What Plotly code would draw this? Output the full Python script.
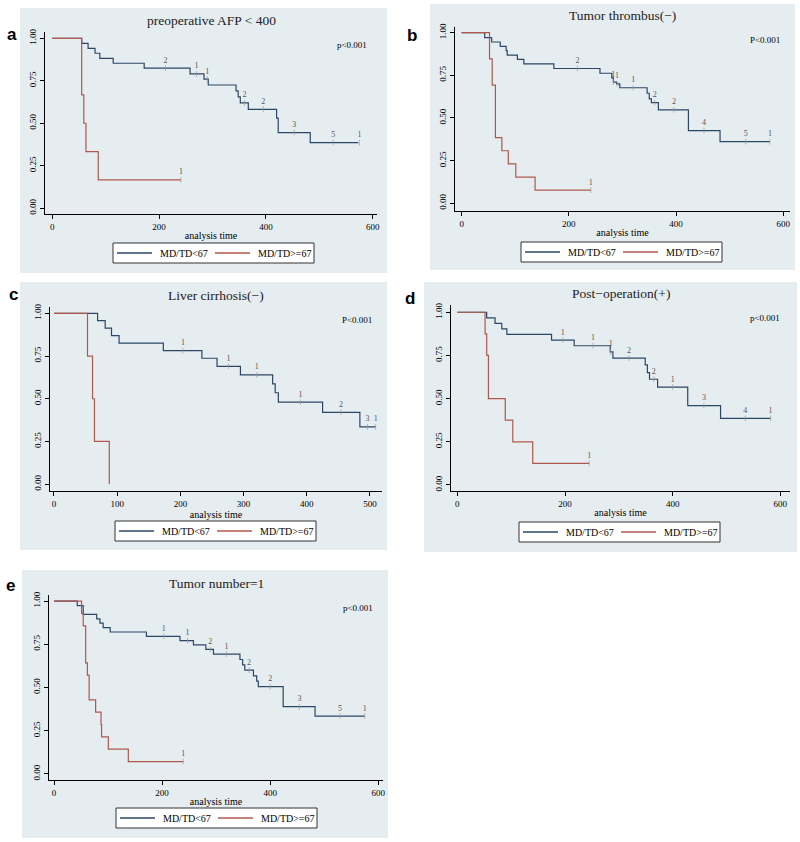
import plotly.graph_objects as go

# ---- data (Kaplan-Meier steps) ----
# a: preoperative AFP < 400
a_low_t = [0, 55, 67, 80, 89, 114, 172, 258, 284, 292, 344, 348, 352, 367, 420, 423, 483, 573]
a_low_s = [1.0, 0.97, 0.941, 0.912, 0.882, 0.853, 0.824, 0.79, 0.76, 0.725, 0.69, 0.655, 0.62, 0.582, 0.53, 0.445, 0.386, 0.386]
a_high_t = [0, 55, 59, 63, 86, 241]
a_high_s = [1.0, 0.667, 0.5, 0.333, 0.167, 0.167]
a_cens_t = [212, 270, 290, 360, 395, 453, 526, 575]
a_cens_n = ["2", "1", "1", "2", "2", "3", "5", "1"]
a_hcens_t = [241]
a_hcens_n = ["1"]

# b: Tumor thrombus(-)
b_low_t = [0, 43, 56, 72, 83, 85, 104, 116, 172, 258, 280, 283, 289, 295, 346, 350, 354, 367, 423, 482, 575]
b_low_s = [1.0, 0.971, 0.945, 0.92, 0.895, 0.868, 0.843, 0.817, 0.79, 0.762, 0.735, 0.71, 0.70, 0.677, 0.645, 0.612, 0.59, 0.547, 0.426, 0.361, 0.361]
b_high_t = [0, 52, 57, 63, 75, 87, 101, 137, 241]
b_high_s = [1.0, 0.846, 0.692, 0.385, 0.308, 0.231, 0.154, 0.077, 0.077]
b_cens_t = [216, 283, 290, 320, 360, 396, 452, 530, 575]
b_cens_n = ["2", "1", "1", "1", "2", "2", "4", "5", "1"]
b_hcens_t = [241]
b_hcens_n = ["1"]

# c: Liver cirrhosis(-)
c_low_t = [0, 69, 81, 91, 103, 173, 234, 258, 295, 346, 350, 355, 425, 484, 509]
c_low_s = [1.0, 0.957, 0.913, 0.869, 0.826, 0.782, 0.737, 0.69, 0.64, 0.587, 0.535, 0.48, 0.42, 0.335, 0.335]
c_high_t = [0, 53, 61, 64, 87.5]
c_high_s = [1.0, 0.75, 0.5, 0.25, 0.0]
c_cens_t = [204, 276, 321, 390, 454, 496, 509]
c_cens_n = ["1", "1", "1", "1", "2", "3", "1"]
c_hcens_t = []
c_hcens_n = []

# d: Post-operation(+)
d_low_t = [0, 54.5, 70, 82.5, 92, 175, 217, 284, 289, 349, 353, 357, 372, 428, 489, 582]
d_low_s = [1.0, 0.968, 0.936, 0.904, 0.872, 0.839, 0.806, 0.77, 0.734, 0.695, 0.65, 0.612, 0.567, 0.459, 0.386, 0.386]
d_high_t = [0, 51.5, 54.5, 57.7, 89, 103, 140, 245]
d_high_s = [1.0, 0.875, 0.75, 0.5, 0.375, 0.25, 0.125, 0.125]
d_cens_t = [196, 252, 285, 319, 365, 400, 458, 535, 582]
d_cens_n = ["1", "1", "1", "2", "2", "1", "3", "4", "1"]
d_hcens_t = [245]
d_hcens_n = ["1"]

# e: Tumor number=1
e_low_t = [0, 43, 54, 79, 85, 91, 104, 171, 233, 258, 281, 295, 344, 349, 353, 369, 375, 378, 424, 483, 575]
e_low_s = [1.0, 0.974, 0.923, 0.897, 0.872, 0.846, 0.821, 0.796, 0.771, 0.746, 0.72, 0.693, 0.662, 0.631, 0.6, 0.567, 0.537, 0.505, 0.389, 0.335, 0.335]
e_high_t = [0, 51, 54, 58.6, 61.7, 65, 77, 87, 88, 100.5, 137.5, 239]
e_high_s = [1.0, 0.929, 0.857, 0.643, 0.571, 0.429, 0.357, 0.286, 0.214, 0.143, 0.071, 0.071]
e_cens_t = [203, 247, 289, 319, 361, 400, 454, 529, 575]
e_cens_n = ["1", "1", "2", "1", "2", "2", "3", "5", "1"]
e_hcens_t = [239]
e_hcens_n = ["1"]

titles = ["preoperative AFP < 400", "Tumor thrombus(\u2212)", "Liver cirrhosis(\u2212)",
          "Post\u2212operation(+)", "Tumor number=1"]
letters = ["a", "b", "c", "d", "e"]
pvals = ["p<0.001", "P<0.001", "P<0.001", "p<0.001", "p<0.001"]
group_names = ["MD/TD<67", "MD/TD>=67"]
x_ticks = [[0, 200, 400, 600], [0, 200, 400, 600], [0, 100, 200, 300, 400, 500],
           [0, 200, 400, 600], [0, 200, 400, 600]]

data = [
    (a_low_t, a_low_s, a_high_t, a_high_s, a_cens_t, a_cens_n, a_hcens_t, a_hcens_n),
    (b_low_t, b_low_s, b_high_t, b_high_s, b_cens_t, b_cens_n, b_hcens_t, b_hcens_n),
    (c_low_t, c_low_s, c_high_t, c_high_s, c_cens_t, c_cens_n, c_hcens_t, c_hcens_n),
    (d_low_t, d_low_s, d_high_t, d_high_s, d_cens_t, d_cens_n, d_hcens_t, d_hcens_n),
    (e_low_t, e_low_s, e_high_t, e_high_s, e_cens_t, e_cens_n, e_hcens_t, e_hcens_n),
]

# ---- layout geometry (pixels) ----
W, H = 800, 842
# background box, plot area, x range, y range, legend box (left, top), letter pos
geom = [
    dict(box=(20, 8, 387, 273), plot=(45, 32, 377, 214), xr=(-13.7, 608), yr=(-0.034, 1.037),
         leg=(113, 243), letter=(12, 34)),
    dict(box=(430, 4, 795, 270), plot=(455, 27, 790, 211), xr=(-12.4, 612.5), yr=(-0.045, 1.033),
         leg=(521, 242), letter=(412, 35)),
    dict(box=(20, 282, 387, 550), plot=(50, 307, 382, 491), xr=(-6.3, 519), yr=(-0.04, 1.037),
         leg=(115, 521), letter=(13, 295)),
    dict(box=(424, 282, 797, 552), plot=(451, 305, 790, 491), xr=(-11.8, 618), yr=(-0.035, 1.042),
         leg=(519, 522), letter=(410, 298)),
    dict(box=(22, 570, 388, 838), plot=(49, 595, 383, 780), xr=(-9.25, 608.7), yr=(-0.035, 1.035),
         leg=(116, 808), letter=(10, 585)),
]
LEG_W, LEG_H = 201, 20

SERIF = "Liberation Serif"
BLUE = "#2b4766"
RED = "#b0584c"
BOXC = "#e6edf1"


def px(x):
    return x / W


def py(y):
    return 1 - y / H


def step_at(ts, ss, t):
    v = ss[0]
    for ti, si in zip(ts, ss):
        if ti <= t:
            v = si
    return v


fig = go.Figure()
layout = dict(shapes=[], annotations=[])

for i, (d, g) in enumerate(zip(data, geom)):
    lt, ls, ht, hs, ct, cn, hct, hcn = d
    xa = "x" if i == 0 else f"x{i + 1}"
    ya = "y" if i == 0 else f"y{i + 1}"

    fig.add_trace(go.Scatter(x=lt, y=ls, mode="lines", line=dict(color=BLUE, width=1.2, shape="hv"),
                             name=group_names[0], xaxis=xa, yaxis=ya))
    fig.add_trace(go.Scatter(x=ht, y=hs, mode="lines", line=dict(color=RED, width=1.2, shape="hv"),
                             name=group_names[1], xaxis=xa, yaxis=ya))
    # censoring counts
    for tt, tn, ts, ss in ((ct, cn, lt, ls), (hct, hcn, ht, hs)):
        if not tt:
            continue
        fig.add_trace(go.Scatter(x=tt, y=[step_at(ts, ss, t) for t in tt], mode="text+markers", text=tn,
                                 textposition="top center", textfont=dict(family=SERIF, size=8, color="#555"),
                                 marker=dict(symbol="line-ns", size=4, line=dict(color="#999", width=0.7)),
                                 xaxis=xa, yaxis=ya, hoverinfo="skip"))

    x0, y0, x1, y1 = g["plot"]
    axis_common = dict(showline=True, linecolor="black", linewidth=1, ticks="outside", ticklen=4,
                       tickcolor="black", tickfont=dict(family=SERIF, size=9, color="black"),
                       zeroline=False, fixedrange=True, automargin=False)
    layout["xaxis" if i == 0 else f"xaxis{i + 1}"] = dict(
        axis_common, domain=[px(x0), px(x1)], range=list(g["xr"]), anchor=ya,
        tickvals=x_ticks[i], showgrid=False,
        title=dict(text="analysis time", font=dict(family=SERIF, size=10, color="black"), standoff=1))
    layout["yaxis" if i == 0 else f"yaxis{i + 1}"] = dict(
        axis_common, domain=[py(y1), py(y0)], range=list(g["yr"]), anchor=xa,
        tickvals=[0, 0.25, 0.5, 0.75, 1.0], ticktext=["0.00", "0.25", "0.50", "0.75", "1.00"],
        tickangle=-90, showgrid=True, gridcolor="#e9eff1", gridwidth=1)

    # panel background
    bx0, by0, bx1, by1 = g["box"]
    layout["shapes"].append(dict(type="rect", xref="paper", yref="paper", x0=px(bx0), x1=px(bx1),
                                 y0=py(by1), y1=py(by0), fillcolor=BOXC, line=dict(width=0), layer="below"))

    # legend box (Stata style)
    lx, ly = g["leg"]
    cy = ly + LEG_H / 2
    layout["shapes"].append(dict(type="rect", xref="paper", yref="paper", x0=px(lx), x1=px(lx + LEG_W),
                                 y0=py(ly + LEG_H), y1=py(ly), fillcolor="white",
                                 line=dict(color="#333", width=1)))
    for k, (col, off) in enumerate(((BLUE, 4), (RED, 102))):
        layout["shapes"].append(dict(type="line", xref="paper", yref="paper", x0=px(lx + off),
                                     x1=px(lx + off + 35), y0=py(cy), y1=py(cy), line=dict(color=col, width=1.3)))
        layout["annotations"].append(dict(text=group_names[k], xref="paper", yref="paper", x=px(lx + off + 41),
                                          y=py(cy), xanchor="left", yanchor="middle", showarrow=False,
                                          font=dict(family=SERIF, size=10, color="black")))

    layout["annotations"].append(dict(text=titles[i], xref="paper", yref="paper", x=px((x0 + x1) / 2),
                                      y=py(y0 - 2), xanchor="center", yanchor="bottom", showarrow=False,
                                      font=dict(family=SERIF, size=13.5, color="#222")))
    layout["annotations"].append(dict(text=pvals[i], xref=f"{xa} domain", yref=f"{ya} domain", x=0.975, y=0.93,
                                      xanchor="right", yanchor="middle", showarrow=False,
                                      font=dict(family=SERIF, size=9, color="black")))
    lx0, ly0 = g["letter"]
    layout["annotations"].append(dict(text=f"<b>{letters[i]}</b>", xref="paper", yref="paper", x=px(lx0),
                                      y=py(ly0), xanchor="center", yanchor="middle", showarrow=False,
                                      font=dict(family="Liberation Sans", size=17, color="black")))

fig.update_layout(**layout)
fig.update_layout(width=W, height=H, margin=dict(l=0, r=0, t=0, b=0, autoexpand=False),
                  paper_bgcolor="white", plot_bgcolor="white", hovermode=False, showlegend=False)

# drop the default page margin so the figure sits at the window origin
fig.write_html("out.html", config={"displayModeBar": False},
               post_script="document.body.style.margin='0';")
